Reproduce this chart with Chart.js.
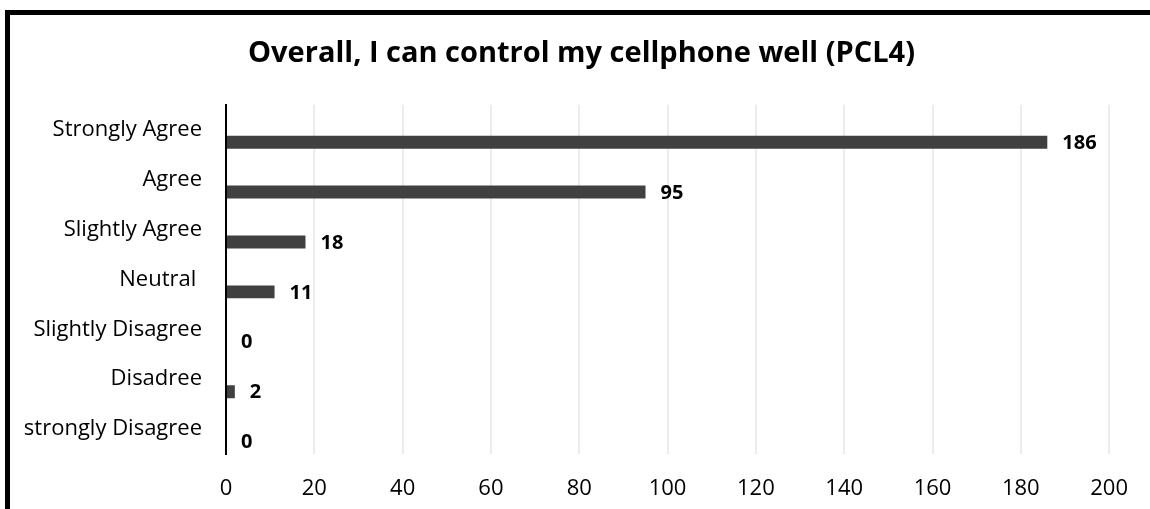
<!DOCTYPE html>
<html>
<head>
<meta charset="utf-8">
<script src="https://cdn.jsdelivr.net/npm/chart.js@4"></script>
<style>
  html, body { margin: 0; padding: 0; background: #fff; }
  #wrap { position: relative; width: 1150px; height: 509px; overflow: hidden; }
  #frame { position: absolute; left: 5px; top: 10px; right: -10px; bottom: -10px;
           border-left: 5px solid #000; border-top: 5px solid #000; }
  canvas { position: absolute; left: 0; top: 0; }
</style>
</head>
<body>
<div id="wrap">
  <div id="frame"></div>
  <canvas id="pclChart" width="1150" height="509"></canvas>
</div>
<script>
var categories = ["Strongly Agree", "Agree", "Slightly Agree", "Neutral ", "Slightly Disagree", "Disadree", "strongly Disagree"];
var responses = [186, 95, 18, 11, 0, 2, 0];
var emptySeries = [null, null, null, null, null, null, null];
var titleText = "Overall, I can control my cellphone well (PCL4)";

// writes the value next to each bar, like excel data labels
var valueLabels = {
  id: 'valueLabels',
  afterLayout: function (chart) {
    // y labels are clipped to the scale box, let them run into the left padding
    chart.scales.y.left = 12;
  },
  afterDatasetsDraw: function (chart) {
    var ctx = chart.ctx;
    var meta = chart.getDatasetMeta(1);
    ctx.save();
    ctx.font = 'bold 20px "Open Sans"';
    ctx.fillStyle = '#000';
    ctx.textAlign = 'left';
    ctx.textBaseline = 'middle';
    meta.data.forEach(function (bar, i) {
      ctx.fillText(responses[i], bar.x + 15, bar.y + 1);
    });
    ctx.restore();
  }
};

new Chart(document.getElementById('pclChart'), {
  type: 'bar',
  data: {
    labels: categories,
    datasets: [{
      label: '',
      data: emptySeries,
      backgroundColor: '#404040'
    }, {
      label: 'Responses',
      data: responses,
      backgroundColor: '#404040',
      borderWidth: 0
    }]
  },
  options: {
    indexAxis: 'y',
    responsive: false,
    animation: false,
    categoryPercentage: 1,
    barPercentage: 0.52,
    layout: { padding: { left: 52, right: 39, top: 0, bottom: 0 } },
    plugins: {
      legend: { display: false },
      tooltip: { enabled: false },
      title: {
        display: true,
        text: titleText,
        color: '#000',
        font: { family: 'Open Sans', size: 29, weight: 'bold', lineHeight: 1.2 },
        padding: { top: 36, bottom: 34 }
      }
    },
    scales: {
      x: {
        min: 0,
        max: 200,
        ticks: { stepSize: 20, color: '#000', padding: 22, font: { family: 'Open Sans', size: 22 } },
        grid: { color: '#ececec', lineWidth: 2, drawTicks: false },
        border: { display: false },
        afterFit: function (scale) { scale.height = 55; }
      },
      y: {
        ticks: { color: '#000', padding: 24, font: { family: 'Open Sans', size: 22 } },
        grid: { display: false, drawTicks: false },
        border: { display: true, color: '#000', width: 2 },
        afterFit: function (scale) { scale.width = 174; }
      }
    }
  },
  plugins: [valueLabels]
});
</script>
</body>
</html>
